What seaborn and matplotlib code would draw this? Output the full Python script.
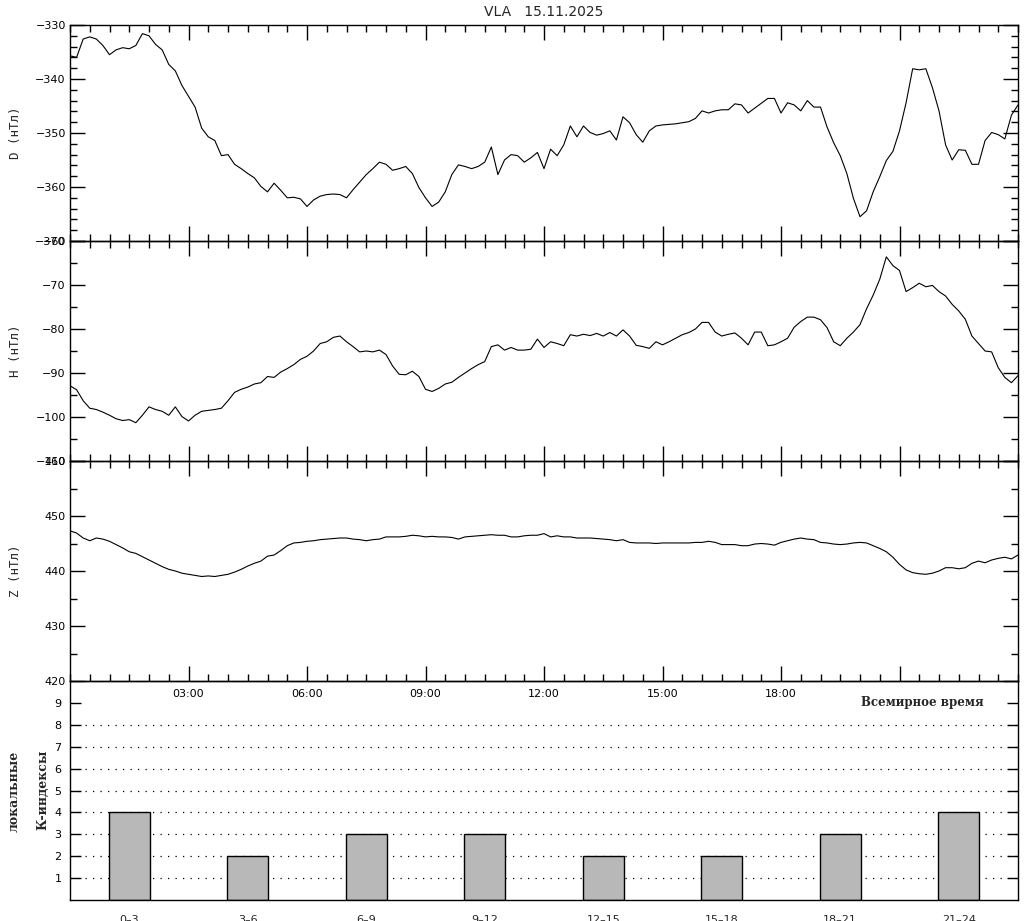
import numpy as np
import pandas as pd
import seaborn as sns
import matplotlib.pyplot as plt
from matplotlib.ticker import MultipleLocator

# --- data (10-minute samples, UT) ---
minutes = np.arange(0, 1441, 10)

d_vals = [
    -335.7, -336.0, -332.6, -332.2, -332.6, -333.8, -335.5, -334.6, -334.2, -334.4,
    -333.8, -331.6, -332.0, -333.6, -334.6, -337.3, -338.5, -341.2, -343.2, -345.2,
    -349.1, -350.7, -351.4, -354.2, -354.0, -355.8, -356.6, -357.5, -358.3, -359.9,
    -360.9, -359.3, -360.6, -362.0, -361.9, -362.2, -363.6, -362.4, -361.7, -361.4,
    -361.3, -361.4, -362.0, -360.5, -359.1, -357.7, -356.6, -355.4, -355.8,
    -356.9, -356.6, -356.2, -357.5, -360.1, -362.0, -363.6, -362.8, -360.9, -357.7,
    -355.9, -356.2, -356.6, -356.2, -355.4, -352.6, -357.7, -355.0, -354.0, -354.2,
    -355.4, -354.6, -353.6, -356.6, -353.0, -354.2, -352.2, -348.7, -350.7, -348.7,
    -349.9, -350.4, -350.1, -349.6, -351.3, -347.0, -348.1, -350.3, -351.7, -349.6,
    -348.7, -348.5, -348.4, -348.3, -348.1, -347.9, -347.3, -345.9,
    -346.3, -345.9, -345.7, -345.7, -344.6, -344.8, -346.3, -345.4, -344.5, -343.6,
    -343.6, -346.3, -344.4, -344.8, -345.9, -344.0, -345.2, -345.2, -348.9, -351.8,
    -354.2, -357.5, -362.1, -365.5, -364.4, -360.9, -358.1, -355.1, -353.4, -349.6,
    -344.4, -338.1, -338.3, -338.1, -341.6, -345.9, -352.2, -355.0, -353.1, -353.2,
    -355.8, -355.8, -351.4, -349.9, -350.3, -351.1, -346.7, -344.8,
]

h_vals = [
    -92.9, -93.8, -96.3, -98.0, -98.3, -98.9, -99.6, -100.4, -100.8, -100.6,
    -101.3, -99.6, -97.7, -98.3, -98.7, -99.6, -97.7, -99.9, -100.9, -99.6,
    -98.7, -98.5, -98.3, -98.0, -96.3, -94.4, -93.7, -93.2, -92.5, -92.2,
    -90.8, -91.0, -89.8, -89.0, -88.1, -86.9, -86.2, -85.0, -83.3, -82.9,
    -81.9, -81.6, -82.9, -84.0, -85.2, -85.0, -85.2, -84.8, -85.8,
    -88.4, -90.3, -90.4, -89.6, -90.8, -93.7, -94.2, -93.5, -92.5, -92.1,
    -91.0, -90.0, -89.0, -88.1, -87.4, -84.0, -83.6, -84.8, -84.2, -84.8,
    -84.8, -84.6, -82.3, -84.2, -82.9, -83.3, -83.8, -81.3, -81.6, -81.2,
    -81.5, -81.0, -81.6, -80.8, -81.6, -80.2, -81.6, -83.7, -84.0, -84.4,
    -82.9, -83.6, -82.9, -82.1, -81.3, -80.8, -80.0, -78.5,
    -78.5, -80.7, -81.6, -81.2, -80.9, -82.1, -83.6, -80.7, -80.7, -83.8,
    -83.6, -82.9, -82.1, -79.6, -78.3, -77.3, -77.3, -77.9, -79.7, -82.9,
    -83.8, -82.1, -80.7, -79.0, -75.4, -72.3, -68.7, -63.6, -65.6, -66.7,
    -71.5, -70.6, -69.6, -70.4, -70.1, -71.5, -72.5, -74.4, -75.9, -77.8,
    -81.6, -83.3, -85.0, -85.2, -88.8, -91.0, -92.2, -90.6,
]

z_vals = [
    447.3, 446.9, 446.0, 445.5, 446.0, 445.8, 445.4, 444.8, 444.2, 443.5,
    443.2, 442.6, 442.0, 441.4, 440.8, 440.3, 440.0, 439.6, 439.4, 439.2,
    439.0, 439.1, 439.0, 439.2, 439.4, 439.8, 440.3, 440.9, 441.4, 441.8,
    442.7, 442.9, 443.7, 444.6, 445.1, 445.2, 445.4, 445.5, 445.7, 445.8,
    445.9, 446.0, 446.0, 445.8, 445.7, 445.5, 445.7, 445.8, 446.2,
    446.2, 446.2, 446.3, 446.5, 446.4, 446.2, 446.3, 446.2, 446.2, 446.1,
    445.8, 446.2, 446.3, 446.4, 446.5, 446.6, 446.5, 446.5, 446.2, 446.2,
    446.4, 446.5, 446.5, 446.8, 446.2, 446.4, 446.2, 446.2, 446.0, 446.0,
    446.0, 445.9, 445.8, 445.7, 445.5, 445.7, 445.2, 445.1, 445.1, 445.1,
    445.0, 445.1, 445.1, 445.1, 445.1, 445.1, 445.2, 445.2,
    445.4, 445.2, 444.8, 444.8, 444.8, 444.6, 444.6, 444.9, 445.0, 444.9,
    444.7, 445.2, 445.5, 445.8, 446.0, 445.8, 445.7, 445.2, 445.1, 444.9,
    444.8, 444.9, 445.1, 445.2, 445.1, 444.6, 444.1, 443.5, 442.5, 441.2,
    440.2, 439.7, 439.5, 439.4, 439.6, 440.0, 440.6, 440.6, 440.4, 440.6,
    441.4, 441.8, 441.5, 442.0, 442.3, 442.5, 442.2, 442.9,
]

k_labels = ["0–3", "3–6", "6–9", "9–12", "12–15", "15–18", "18–21", "21–24"]
k_vals = [4, 2, 3, 3, 2, 2, 3, 4]
k_grid = [1, 2, 3, 4, 5, 6, 7, 8]

hour_ticks = [3, 6, 9, 12, 15, 18, 21]
hour_labels = ["03:00", "06:00", "09:00", "12:00", "15:00", "18:00", ""]

df = pd.DataFrame({"hour": minutes / 60, "D": d_vals, "H": h_vals, "Z": z_vals})
kdf = pd.DataFrame({"interval": k_labels, "K": k_vals})

sns.set_theme(style="ticks")
plt.rcParams["font.family"] = ["DejaVu Sans"]

W, H = 1024, 921
fig = plt.figure(figsize=(W / 100, H / 100), dpi=100)


def box(top, bottom, left=70, right=1018):
    return [left / W, 1 - bottom / H, (right - left) / W, (bottom - top) / H]


panels = [
    ("D", box(25, 241), (-370, -330), 10, 2, "D (нТл)"),
    ("H", box(241, 461), (-110, -60), 10, 5, "H (нТл)"),
    ("Z", box(461, 681), (420, 460), 10, 5, "Z (нТл)"),
]

# --- K-index panel (added first so the time labels of Z draw over it) ---
ax4 = fig.add_axes(box(681, 900))
for v in k_grid:
    ax4.axhline(v, color="black", linewidth=0.9, linestyle=(0, (1, 5)), zorder=0)
sns.barplot(data=kdf, x="interval", y="K", ax=ax4, color="#b8b8b8",
            saturation=1, width=0.345, edgecolor="black", linewidth=1,
            zorder=2)
ax4.set_xlim(-0.5, 7.5)
ax4.set_ylim(0, 10)
ax4.set_yticks(range(1, 10))
ax4.tick_params(axis="y", which="major", direction="in", right=True,
                length=8, width=1, labelsize=8, pad=6, colors="black")
ax4.tick_params(axis="x", length=0, labelsize=8, pad=10.5)
ax4.set_xlabel("")
ax4.set_ylabel("")
for s in ax4.spines.values():
    s.set_linewidth(1)
    s.set_color("black")
ax4.text(0.899, 0.904, "Всемирное время", transform=ax4.transAxes,
         ha="center", va="center", family="DejaVu Serif", fontweight="bold",
         fontsize=8.5)

axes = []
for col, rect, ylim, major, minor, label in panels:
    ax = fig.add_axes(rect)
    ax.patch.set_alpha(0)
    sns.lineplot(data=df, x="hour", y=col, ax=ax, color="black",
                 linewidth=0.8, estimator=None)
    ax.set_xlim(0, 24)
    ax.set_ylim(*ylim)
    ax.yaxis.set_major_locator(MultipleLocator(major))
    ax.yaxis.set_minor_locator(MultipleLocator(minor))
    ax.set_xticks(hour_ticks)
    ax.xaxis.set_minor_locator(MultipleLocator(0.5))
    ax.tick_params(which="both", direction="in", top=True, right=True,
                   width=1, colors="black", labelsize=8, pad=3)
    ax.tick_params(which="major", length=11)
    ax.tick_params(which="minor", length=5)
    ax.set_xticklabels([])
    ax.set_xlabel("")
    ax.set_ylabel("")
    for s in ax.spines.values():
        s.set_linewidth(1)
        s.set_color("black")
    yc = rect[1] + rect[3] / 2
    fig.text(16 / W, yc, label, rotation=90, ha="center", va="center",
             family="DejaVu Sans Mono", fontsize=9)
    axes.append(ax)

# time labels sit under the Z panel, inside the K-index panel
axes[2].set_xticklabels(hour_labels)
axes[2].tick_params(axis="x", which="major", pad=6, labelsize=8)

fig.text(14 / W, 1 - 791 / H, "локальные", rotation=90, ha="center",
         va="center", family="DejaVu Serif", fontweight="bold", fontsize=9)
fig.text(43 / W, 1 - 790 / H, "К-индексы", rotation=90, ha="center",
         va="center", family="DejaVu Serif", fontweight="bold", fontsize=9)

fig.text(544 / W, 1 - 12 / H, "VLA   15.11.2025", ha="center", va="center",
         fontsize=10)

fig.savefig("out.png", dpi=100)
